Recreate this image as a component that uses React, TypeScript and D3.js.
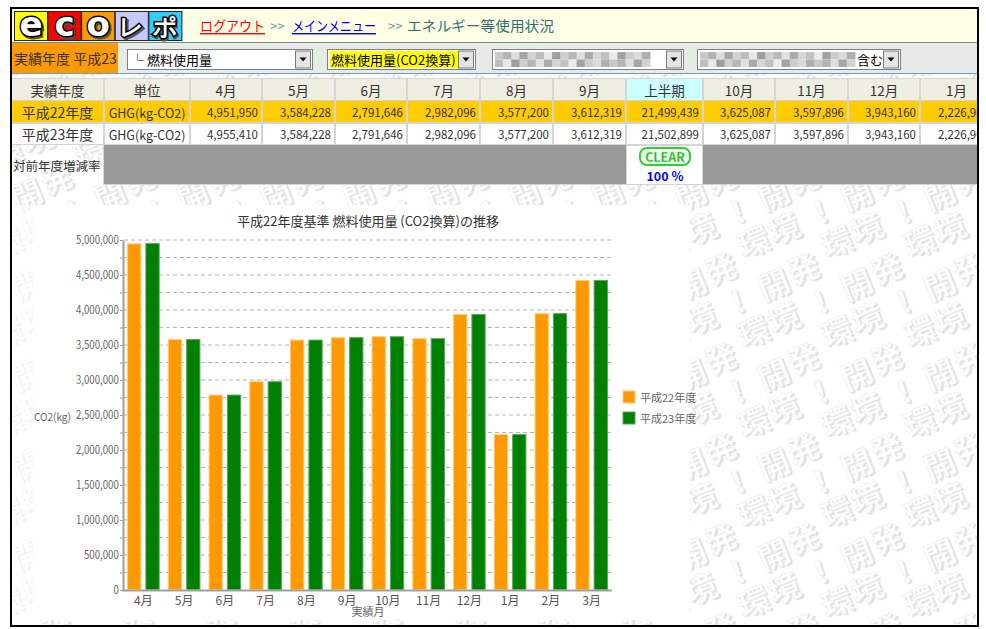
import React, { useEffect, useRef } from 'react';
import * as d3 from 'd3';

const FONT = "'Noto Sans CJK JP', 'Noto Sans', sans-serif";

// chart data
const months = ['4月', '5月', '6月', '7月', '8月', '9月', '10月', '11月', '12月', '1月', '2月', '3月'];
const seriesNames = ['平成22年度', '平成23年度'];
const seriesColors = ['#ff9900', '#008000'];
const seriesStrokes = ['#ffc977', '#5aa55a'];
const h22Values = [4951950, 3584228, 2791646, 2982096, 3577200, 3612319, 3625087, 3597896, 3943160, 2226900, 3955000, 4430000];
const h23Values = [4955410, 3584228, 2791646, 2982096, 3577200, 3612319, 3625087, 3597896, 3943160, 2226900, 3955000, 4430000];
const yTicks = d3.range(0, 5000001, 250000);

// table data
const tableHeaders = ['実績年度', '単位', '4月', '5月', '6月', '7月', '8月', '9月', '上半期', '10月', '11月', '12月', '1月'];
const tableRow22 = ['平成22年度', 'GHG(kg-CO2)', '4,951,950', '3,584,228', '2,791,646', '2,982,096', '3,577,200', '3,612,319', '21,499,439', '3,625,087', '3,597,896', '3,943,160', '2,226,900'];
const tableRow23 = ['平成23年度', 'GHG(kg-CO2)', '4,955,410', '3,584,228', '2,791,646', '2,982,096', '3,577,200', '3,612,319', '21,502,899', '3,625,087', '3,597,896', '3,943,160', '2,226,900'];
const colEdges = [11, 104, 190, 262, 335, 407, 480, 553, 626, 703, 775, 848, 920, 993];
const rowEdges = [78, 101, 123, 145, 185];

const logoLetters = ['e', 'c', 'o', 'レ', 'ポ'];
const logoColors = ['#ffff00', '#ff0000', '#ff9900', '#c8c8ff', '#33ccff'];

const mosaicShades = ['#c9c9c9', '#b4b4b4', '#dedede', '#a6a6a6', '#d2d2d2', '#bdbdbd', '#e8e8e8', '#9f9f9f', '#cfcfcf', '#b8b8b8', '#e0e0e0', '#ababab', '#d6d6d6', '#c2c2c2', '#eaeaea', '#a3a3a3', '#cccccc', '#dadada', '#b0b0b0'];

const wmChars = [
  { ch: '発', x: 10, y: 10 },
  { ch: '開', x: 63, y: 26 },
  { ch: '！', x: 27, y: 43 },
  { ch: '境', x: 73, y: 60 },
  { ch: '環', x: 43, y: 73 },
];
const WM_W = 83;
const WM_H = 90;

function DropButton({ x, y }: { x: number; y: number }) {
  return (
    <g transform={`translate(${x},${y})`}>
      <rect x={0.5} y={0.5} width={15} height={17} fill="#e4e4e4" stroke="#7a7a7a" />
      <path d="M4.5,7 L11.5,7 L8,11 Z" fill="#000" />
    </g>
  );
}

function Mosaic({ x, y, w, h }: { x: number; y: number; w: number; h: number }) {
  const bw = w / mosaicShades.length;
  return (
    <g>
      {mosaicShades.map((c, i) => (
        <rect key={i} x={x + i * bw} y={y} width={bw + 0.5} height={h / 2} fill={c} />
      ))}
      {mosaicShades.map((c, i) => (
        <rect key={'b' + i} x={x + i * bw} y={y + h / 2} width={bw + 0.5} height={h / 2} fill={mosaicShades[(i + 5) % mosaicShades.length]} />
      ))}
    </g>
  );
}

export default function App() {
  const yAxisRef = useRef<SVGGElement>(null);

  const x0 = d3.scaleBand<string>().domain(months).range([123, 612]).paddingInner(0.2).paddingOuter(0.1);
  const x1 = d3.scaleBand<string>().domain(seriesNames).range([0, x0.bandwidth()]).paddingInner(0.22);
  const y = d3.scaleLinear().domain([0, 5000000]).range([590, 240]);
  const series = [h22Values, h23Values];

  useEffect(() => {
    const g = d3.select(yAxisRef.current as SVGGElement);
    g.call(
      d3
        .axisLeft(y)
        .tickValues(yTicks)
        .tickSize(3)
        .tickSizeOuter(0)
        .tickPadding(2)
        .tickFormat(d => (+d % 500000 === 0 ? d3.format(',')(+d) : ''))
    );
    g.select('.domain').attr('stroke', '#a0a0a0').attr('stroke-width', 2);
    g.selectAll('.tick line').attr('stroke', '#a0a0a0');
    g.selectAll('.tick text')
      .attr('fill', '#666')
      .attr('font-size', 11.5)
      .attr('font-family', FONT)
      .attr('transform', 'scale(0.84,1)');
  }, []);

  const cellText = (row: number, col: number, text: string, size: number, align: 'middle' | 'end' | 'start', fill = '#333') => {
    const x = align === 'middle' ? (colEdges[col] + colEdges[col + 1]) / 2 : align === 'end' ? colEdges[col + 1] - 4 : colEdges[col] + 3;
    const yy = (rowEdges[row] + rowEdges[row + 1]) / 2;
    return (
      <text key={`t${row}-${col}`} x={x} y={yy} textAnchor={align} dominantBaseline="central" fontSize={size} fill={fill}>
        {text}
      </text>
    );
  };

  return (
    <svg width={986} height={629} style={{ position: 'absolute', left: 0, top: 0 }} fontFamily={FONT}>
      <defs>
        <pattern id="wm" patternUnits="userSpaceOnUse" width={WM_W} height={WM_H} x={710} y={257}>
          <rect width={WM_W} height={WM_H} fill="#ffffff" />
          {[-1, 0, 1].map(dx =>
            [-1, 0, 1].map(dy =>
              wmChars.map((c, i) => (
                <g key={`${dx}${dy}${i}`} transform={`translate(${c.x + dx * WM_W},${c.y + dy * WM_H}) rotate(-22)`}>
                  <text x={2} y={2} textAnchor="middle" dominantBaseline="central" fontSize={31} fontWeight="bold" fill="#e2e2e2">
                    {c.ch}
                  </text>
                  <text textAnchor="middle" dominantBaseline="central" fontSize={31} fontWeight="bold" fill="#ffffff" stroke="#ebebeb" strokeWidth={0.6}>
                    {c.ch}
                  </text>
                </g>
              ))
            )
          )}
        </pattern>
        <clipPath id="frame">
          <rect x={12} y={9} width={965} height={616} />
        </clipPath>
      </defs>

      <rect width={986} height={629} fill="#ffffff" />

      <g clipPath="url(#frame)">
        {/* header */}
        <rect x={12} y={9} width={965} height={33} fill="#ffffe6" />
        {logoLetters.map((l, i) => {
          const big = i < 3;
          return (
            <g key={l} transform={`translate(${14 + i * 33.6},11)`}>
              <rect x={0.5} y={0.5} width={33} height={29} fill={logoColors[i]} stroke="#222" />
              <text x={18.5} y={big ? 26.5 : 25.5} textAnchor="middle" fontSize={big ? 34 : 24} fontWeight="900" fontFamily="'DejaVu Sans', sans-serif" fill="#555" stroke="#555" strokeWidth={3}>
                {l}
              </text>
              <text x={17} y={big ? 25 : 24} textAnchor="middle" fontSize={big ? 34 : 24} fontWeight="900" fontFamily="'DejaVu Sans', sans-serif" fill="#ffffff" stroke="#000" strokeWidth={3} style={{ paintOrder: 'stroke' }}>
                {l}
              </text>
            </g>
          );
        })}
        <text x={200} y={25} dominantBaseline="central" fontSize={14} fill="#ff0000" textLength={65} lengthAdjust="spacingAndGlyphs" style={{ textDecoration: 'underline' }}>
          ログアウト
        </text>
        <text x={270} y={25} dominantBaseline="central" fontSize={13} fill="#669999">
          {'>>'}
        </text>
        <text x={292} y={25} dominantBaseline="central" fontSize={14} fill="#0000ff" textLength={84} lengthAdjust="spacingAndGlyphs" style={{ textDecoration: 'underline' }}>
          メインメニュー
        </text>
        <text x={388} y={25} dominantBaseline="central" fontSize={13} fill="#669999">
          {'>>'}
        </text>
        <text x={407} y={25} dominantBaseline="central" fontSize={14} fill="#2f6f6f" textLength={147} lengthAdjust="spacingAndGlyphs">
          エネルギー等使用状況
        </text>
        <line x1={12} x2={977} y1={42.5} y2={42.5} stroke="#6f8f8f" />

        {/* selection bar */}
        <rect x={12} y={43} width={965} height={30} fill="#e6ebe6" />
        <rect x={12} y={43} width={106} height={30} fill="#ff9900" />
        <text x={14} y={58} dominantBaseline="central" fontSize={14} fill="#333">
          実績年度 平成23
        </text>

        <rect x={127.5} y={49.5} width={185} height={20} fill="#fff" stroke="#808080" />
        <text x={131} y={59.5} dominantBaseline="central" fontSize={13} fill="#000">
          └ 燃料使用量
        </text>
        <DropButton x={295} y={50.5} />

        <rect x={327.5} y={49.5} width={148} height={20} fill="#fff" stroke="#808080" />
        <rect x={330} y={51} width={128} height={17} fill="#ffff00" />
        <text x={331} y={59.5} dominantBaseline="central" fontSize={13} fill="#000">
          燃料使用量(CO2換算)
        </text>
        <DropButton x={458} y={50.5} />

        <rect x={492.5} y={49.5} width={191} height={20} fill="#fff" stroke="#808080" />
        <Mosaic x={495} y={52} w={155} h={15} />
        <DropButton x={666} y={50.5} />

        <rect x={697.5} y={49.5} width={203} height={20} fill="#fff" stroke="#808080" />
        <Mosaic x={700} y={52} w={155} h={15} />
        <text x={857} y={59.5} dominantBaseline="central" fontSize={13} fill="#000">
          含む
        </text>
        <DropButton x={883} y={50.5} />
        <line x1={12} x2={977} y1={73.5} y2={73.5} stroke="#6f9fbf" />

        {/* watermark background */}
        <rect x={12} y={74} width={965} height={552} fill="url(#wm)" />

        {/* table */}
        <rect x={11} y={78} width={970} height={107} fill="#d0d0d0" opacity={0.9} />
        {tableHeaders.map((h, c) => (
          <rect key={'h' + c} x={colEdges[c] + 1} y={rowEdges[0] + 1} width={colEdges[c + 1] - colEdges[c] - 2} height={rowEdges[1] - rowEdges[0] - 2} fill={c === 8 ? '#ccffff' : '#efeee2'} />
        ))}
        {tableRow22.map((_, c) => (
          <rect key={'a' + c} x={colEdges[c] + 1} y={rowEdges[1]} width={colEdges[c + 1] - colEdges[c] - 2} height={rowEdges[2] - rowEdges[1] - 1} fill="#ffcc00" />
        ))}
        {tableRow23.map((_, c) => (
          <rect key={'b' + c} x={colEdges[c] + 1} y={rowEdges[2] + 1} width={colEdges[c + 1] - colEdges[c] - 2} height={rowEdges[3] - rowEdges[2] - 2} fill="#ffffff" />
        ))}
        <rect x={colEdges[0] + 1} y={rowEdges[3]} width={colEdges[1] - colEdges[0] - 2} height={rowEdges[4] - rowEdges[3]} fill="url(#wm)" />
        <rect x={colEdges[1]} y={rowEdges[3]} width={colEdges[8] - colEdges[1]} height={rowEdges[4] - rowEdges[3] - 1} fill="#999999" />
        <rect x={colEdges[8] + 1} y={rowEdges[3] + 1} width={colEdges[9] - colEdges[8] - 2} height={rowEdges[4] - rowEdges[3] - 2} fill="#ffffff" />
        <rect x={colEdges[9]} y={rowEdges[3]} width={colEdges[13] - colEdges[9]} height={rowEdges[4] - rowEdges[3] - 1} fill="#999999" />

        {tableHeaders.map((h, c) => cellText(0, c, h, 13.5, 'middle'))}
        {tableRow22.map((v, c) => cellText(1, c, v, c === 0 ? 14 : c === 1 ? 12.5 : 11.5, c < 2 ? 'middle' : 'end'))}
        {tableRow23.map((v, c) => cellText(2, c, v, c === 0 ? 14 : c === 1 ? 12.5 : 11.5, c < 2 ? 'middle' : 'end'))}
        <text x={13} y={165} dominantBaseline="central" fontSize={12.5} fill="#333">
          対前年度増減率
        </text>
        <rect x={640} y={148} width={50} height={17} rx={7} fill="#f0fff0" stroke="#33cc33" strokeWidth={2} />
        <text x={665} y={156.5} textAnchor="middle" dominantBaseline="central" fontSize={12.5} fontWeight="bold" fill="#22aa22" stroke="#a8eea8" strokeWidth={0.4}>
          CLEAR
        </text>
        <text x={665} y={175.5} textAnchor="middle" dominantBaseline="central" fontSize={12.5} fontWeight="bold" fill="#0000ff">
          100 %
        </text>

        {/* chart image */}
        <rect x={12} y={205} width={21} height={415} fill="#ffffff" opacity={0.6} />
        <rect x={33} y={205} width={657} height={415} fill="#ffffff" />
        <text x={368} y={220} textAnchor="middle" dominantBaseline="central" fontSize={13} fill="#333">
          平成22年度基準 燃料使用量 (CO2換算)の推移
        </text>

        {yTicks
          .filter(t => t > 0)
          .map(t => (
            <line key={'g' + t} x1={124} x2={612} y1={y(t)} y2={y(t)} stroke="#b4b4b4" strokeDasharray="4,3" />
          ))}

        {months.map((m, i) => (
          <g key={m} transform={`translate(${x0(m)},0)`}>
            {series.map((vals, s) => (
              <rect
                key={s}
                x={(x1(seriesNames[s]) as number) + 0.5}
                y={y(vals[i]) + 0.5}
                width={x1.bandwidth() - 1}
                height={y(0) - y(vals[i]) - 1}
                fill={seriesColors[s]}
                stroke={seriesStrokes[s]}
              />
            ))}
          </g>
        ))}

        <line x1={122} x2={612} y1={590.5} y2={590.5} stroke="#a0a0a0" strokeWidth={2} />
        <g ref={yAxisRef} transform="translate(123,0)" />

        {months.map(m => (
          <text key={'xl' + m} x={(x0(m) as number) + x0.bandwidth() / 2} y={599} textAnchor="middle" dominantBaseline="central" fontSize={12} fill="#555">
            {m}
          </text>
        ))}
        <text x={368} y={611} textAnchor="middle" dominantBaseline="central" fontSize={11} fill="#666">
          実績月
        </text>
        <text x={34} y={416} dominantBaseline="central" fontSize={11} fill="#666" textLength={37} lengthAdjust="spacingAndGlyphs">
          CO2(kg)
        </text>

        {seriesNames.map((n, i) => (
          <g key={n} transform={`translate(623,${391 + i * 21})`}>
            <rect width={12} height={12} fill={seriesColors[i]} stroke={seriesStrokes[i]} />
            <text x={17} y={6} dominantBaseline="central" fontSize={11} fill="#666">
              {n}
            </text>
          </g>
        ))}
      </g>

      {/* outer frame */}
      <rect x={11} y={8} width={967} height={618} fill="none" stroke="#000" strokeWidth={2} />
    </svg>
  );
}
